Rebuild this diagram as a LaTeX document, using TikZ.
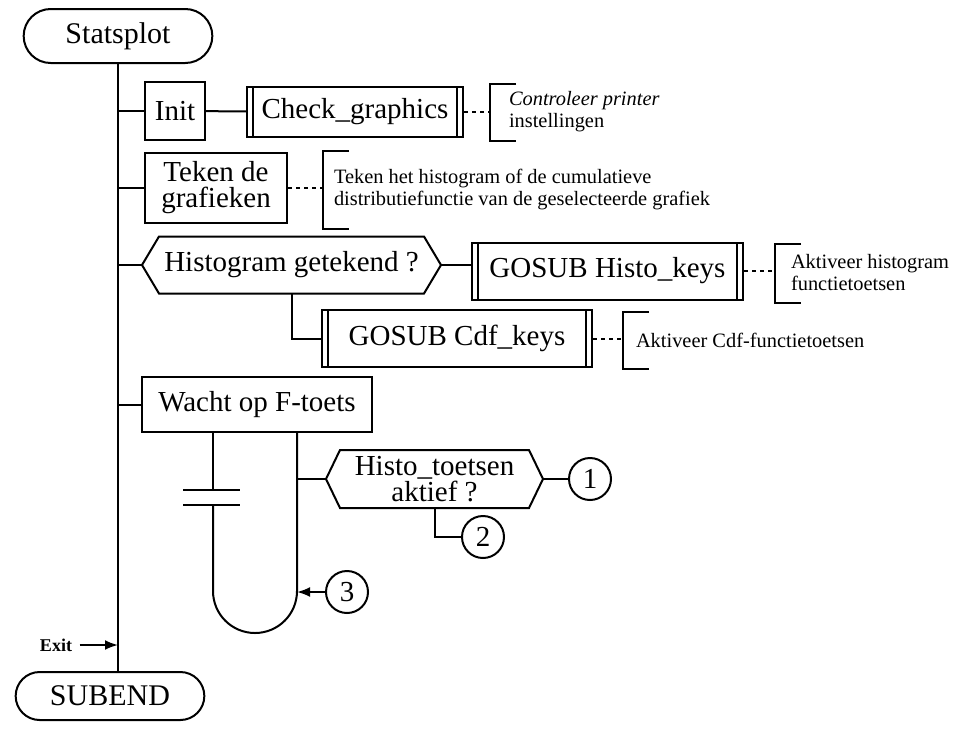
\documentclass[tikz,border=0pt]{standalone}
\usepackage{fontspec}
\setmainfont{Liberation Serif}
\usepackage{tikz}
\usetikzlibrary{arrows.meta,shapes.misc}

\begin{document}
\begin{tikzpicture}[x=0.5pt, y=-0.5pt, line width=1pt, >={Latex[length=6.5pt,width=5pt]},
  every node/.style={font=\fontsize{14.5}{13}\selectfont}]
\tikzstyle{term}=[rounded rectangle, draw, minimum width=101pt, minimum height=27pt, font=\fontsize{15}{15}\selectfont]
\tikzstyle{blok}=[rectangle, draw, align=center, inner sep=2pt]
\tikzstyle{sub}=[blok, path picture={\draw ([xshift=3pt]path picture bounding box.north west) -- ([xshift=3pt]path picture bounding box.south west) ([xshift=-3pt]path picture bounding box.north east) -- ([xshift=-3pt]path picture bounding box.south east);}]
\tikzstyle{vraag}=[rectangle, align=center, inner sep=0pt]
\tikzstyle{note}=[anchor=west, align=left, inner xsep=6pt, font=\fontsize{10.2}{11}\selectfont]
\tikzstyle{dots}=[dash pattern=on 2pt off 2pt]
\tikzstyle{conn}=[circle, draw, minimum size=21pt, inner sep=0pt]
\useasboundingbox (0,0) rectangle (959,730);

\node[term] (stats) at (118,36) {Statsplot};
\node[blok, minimum width=30pt, minimum height=29pt] (init) at (175,111) {Init};
\node[sub, minimum width=108pt, minimum height=25pt] (check) at (355,112) {Check\_graphics};
\node[note, minimum height=27.5pt, inner xsep=9pt] (cnote) at (490,112) {\textit{Controleer printer}\\instellingen};
\node[blok, minimum width=71pt, minimum height=35pt] (teken) at (216,188) {Teken de\\grafieken};
\node[note, minimum height=38pt, inner xsep=5pt] (tnote) at (323,190) {Teken het histogram of de cumulatieve\\distributiefunctie van de geselecteerde grafiek};
\node[vraag, minimum width=148.5pt, minimum height=27.5pt] (hist) at (291.5,265) {Histogram getekend ?};
\node[sub, minimum width=135.5pt, minimum height=28.5pt] (hkeys) at (607.5,271) {GOSUB Histo\_keys};
\node[note, minimum height=28.5pt, inner xsep=7.5pt] (hnote) at (775,273) {Aktiveer histogram\\functietoetsen};
\node[sub, minimum width=135pt, minimum height=28.5pt] (ckeys) at (457,338.5) {GOSUB Cdf\_keys};
\node[note, minimum height=27.5pt] (knote) at (623,340.5) {Aktiveer Cdf-functietoetsen};
\node[blok, minimum width=115pt, minimum height=27.5pt] (wacht) at (257,404.5) {Wacht op F-toets};
\node[vraag, minimum width=107.5pt, minimum height=28pt] (toets) at (434.5,479) {Histo\_toetsen\\aktief ?};
\node[conn] (c1) at (590,479) {1};
\node[conn] (c2) at (483,537) {2};
\node[conn] (c3) at (347,592) {3};
\node[font=\fontsize{9}{9}\selectfont\bfseries] (exit) at (56,645) {Exit};
\node[term, minimum height=24pt] (subend) at (110,696) {SUBEND};

% zeshoeken om de vragen
\foreach \q/\s in {hist/8.5pt, toets/7pt}
  \draw (\q.west) -- ([xshift=\s]\q.north west) -- ([xshift=-\s]\q.north east) -- (\q.east) -- ([xshift=-\s]\q.south east) -- ([xshift=\s]\q.south west) -- cycle;
% haken voor commentaar
\foreach \n in {cnote,tnote,hnote,knote}
  \draw ([xshift=13pt]\n.north west) -| (\n.south west) -- ++(13pt,0);

\draw (stats.south) -- (stats.south |- subend.north);
\draw (stats.south |- init.west) -- (init.west); \draw (stats.south |- teken.west) -- (teken.west);
\draw (stats.south |- hist.west) -- (hist.west); \draw (stats.south |- wacht.west) -- (wacht.west);
\draw (init) -- (check); \draw[dots] (check.east) -- (check.east -| cnote.west);
\draw[dots] (teken.east) -- (teken.east -| tnote.west);
\draw (hist.east) -- (hist.east -| hkeys.west); \draw[dots] (hkeys.east) -- (hkeys.east -| hnote.west);
\draw (hist.south) |- (ckeys.west); \draw[dots] (ckeys.east) -- (ckeys.east -| knote.west);

% lus onder Wacht op F-toets
\coordinate (lo) at ([xshift=-22pt]wacht.south);
\coordinate (ro) at ([xshift=20pt]wacht.south);
\draw (lo) -- ++(0,57) coordinate (b1);
\draw (b1) ++(-30,0) -- ++(57,0);
\draw (lo) ++(0,72) coordinate (b2) ++(-30,0) -- ++(57,0);
\draw (b2) -- ++(0,86) arc[start angle=180, end angle=0, radius=42] -- (ro);

\draw (toets.west -| ro) -- (toets.west); \draw (toets.east) -- (c1);
\draw (toets.south) |- (c2);
\draw[->] (c3) -- (c3 -| ro);
\draw[->] (exit) -- (exit -| stats.south);
\end{tikzpicture}
\end{document}
